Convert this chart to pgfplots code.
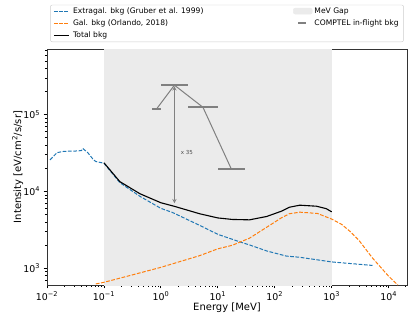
\documentclass[border=0pt]{standalone}
\usepackage{fontspec}
\setmainfont{DejaVu Sans}
\usepackage{pgfplots}
\pgfplotsset{compat=1.18}
\definecolor{c0}{HTML}{1F77B4}
\definecolor{c1}{HTML}{FF7F0E}
\definecolor{gapgray}{RGB}{235,235,235}
\definecolor{comptel}{RGB}{128,128,128}
\tikzset{mpldash/.style={line width=1pt, dash pattern=on 3.7pt off 1.6pt}}
\newcommand{\colone}[1]{\makebox[218pt][l]{#1}}
\begin{document}
\begin{tikzpicture}
\begin{axis}[
  name=ax,
  xmode=log, ymode=log,
  scale only axis, width=360pt, height=236pt,
  xmin=1e-2, xmax=2.1e4, ymin=600, ymax=7.2e5,
  xtick={1e-2,1e-1,1,10,100,1000,10000},
  xticklabels={10\textsuperscript{−2},10\textsuperscript{−1},10\textsuperscript{0},10\textsuperscript{1},10\textsuperscript{2},10\textsuperscript{3},10\textsuperscript{4}},
  minor xtick={2e-2,3e-2,4e-2,5e-2,6e-2,7e-2,8e-2,9e-2,
    0.2,0.3,0.4,0.5,0.6,0.7,0.8,0.9,2,3,4,5,6,7,8,9,
    20,30,40,50,60,70,80,90,200,300,400,500,600,700,800,900,
    2000,3000,4000,5000,6000,7000,8000,9000,20000},
  ytick={1e3,1e4,1e5},
  yticklabels={10\textsuperscript{3},10\textsuperscript{4},10\textsuperscript{5}},
  minor ytick={700,800,900,2e3,3e3,4e3,5e3,6e3,7e3,8e3,9e3,
    2e4,3e4,4e4,5e4,6e4,7e4,8e4,9e4,2e5,3e5,4e5,5e5,6e5,7e5},
  tick pos=left, tick align=outside,
  major tick length=3.5pt, minor tick length=2pt,
  every major tick/.append style={line width=0.8pt, black},
  every minor tick/.append style={line width=0.6pt, black},
  axis line style={line width=0.8pt, black!80},
  tick label style={font=\fontsize{9.4}{11}\selectfont},
  label style={font=\fontsize{11.2}{13}\selectfont},
  xlabel={Energy [MeV]},
  ylabel={Intensity [eV/cm\textsuperscript{2}/s/sr]},
  every axis x label/.style={at={(axis description cs:0.5,-0.109)},
    anchor=base},
  every axis y label/.style={at={(axis description cs:-0.0722,0.5)},
    rotate=90, anchor=base},
  legend columns=2,
  legend cell align=left,
  legend style={font=\fontsize{7.6}{8.6}\selectfont,
    at={(axis description cs:0.5,1)}, anchor=south, yshift=7pt,
    draw=black!20, rounded corners=2pt, inner xsep=3pt, inner ysep=0.5pt,
    row sep=1pt},
]
% MeV gap
\addplot[fill=gapgray, draw=none, forget plot] coordinates {
  (0.1,100) (1000,100) (1000,1e7) (0.1,1e7)} -- cycle;

% extragalactic background (Gruber et al. 1999)
\addplot[c0, mpldash, forget plot] coordinates {
  (0.0113,2.57e4) (0.015,3.2e4) (0.02,3.33e4) (0.03,3.35e4) (0.04,3.4e4)
  (0.043,3.6e4) (0.052,3.2e4) (0.065,2.6e4) (0.072,2.45e4) (0.1,2.33e4)
  (0.19,1.3e4) (0.43,8.6e3) (1,6.0e3) (1.6,5.3e3) (4.8,3.6e3) (10,2.75e3)
  (24,2.2e3) (36,2.0e3) (72,1.67e3) (160,1.43e3) (275,1.38e3) (1000,1.2e3)
  (5200,1.08e3)};

% galactic background (Orlando 2018)
\addplot[c1, mpldash, forget plot] coordinates {
  (0.072,620) (0.1,650) (0.3,805) (1,1.02e3) (4.8,1.45e3) (10,1.78e3)
  (18,1.98e3) (36,2.45e3) (72,3.4e3) (130,4.5e3) (180,5.1e3) (275,5.35e3)
  (560,5.15e3) (1000,4.35e3) (1500,3.7e3) (2100,3.0e3) (3000,2.3e3)
  (5200,1.35e3) (1e4,780) (1.45e4,600)};

% total background
\addplot[black, line width=1.1pt, forget plot] coordinates {
  (0.1,2.36e4) (0.19,1.34e4) (0.43,9.3e3) (1,7.1e3) (1.7,6.4e3) (4.8,5.1e3)
  (10,4.5e3) (18,4.3e3) (36,4.25e3) (72,4.7e3) (130,5.5e3) (180,6.2e3)
  (275,6.6e3) (540,6.4e3) (800,5.95e3) (1000,5.4e3)};

% COMPTEL in-flight background
\addplot[comptel, line width=1pt, forget plot,
  error bars/.cd, x dir=both, x explicit,
  error mark=none, error bar style={line width=2pt, comptel}]
  coordinates {
  (0.84,1.19e5) -= (0.14,0) += (0.16,0)
  (1.73,2.43e5) -= (0.73,0) += (1.27,0)
  (5.48,1.25e5) -= (2.48,0) += (4.52,0)
  (17.3,1.95e4) -= (7.3,0) += (12.7,0)};

% factor 35 arrow
\addplot[comptel, line width=0.9pt, <->, >=stealth, forget plot]
  coordinates {(1.73,2.35e5) (1.73,7.0e3)};
\node[anchor=west, text=black!70, font=\fontsize{5.5}{6}\selectfont]
  at (axis cs:1.95,3.2e4) {x 35};

% legend (matplotlib column order)
\addlegendimage{legend image code/.code={\draw[c0,mpldash] (0pt,0pt)--(15pt,0pt); \path (17pt,0pt);}}
\addlegendentry{\colone{Extragal. bkg (Gruber et al. 1999)}}
\addlegendimage{legend image code/.code={\fill[gapgray] (0pt,-3pt) rectangle (19pt,3pt);}}
\addlegendentry{MeV Gap}
\addlegendimage{legend image code/.code={\draw[c1,mpldash] (0pt,0pt)--(15pt,0pt); \path (17pt,0pt);}}
\addlegendentry{\colone{Gal. bkg (Orlando, 2018)}}
\addlegendimage{legend image code/.code={\draw[comptel,line width=2pt] (5pt,0pt)--(13pt,0pt);}}
\addlegendentry{COMPTEL in-flight bkg}
\addlegendimage{legend image code/.code={\draw[black,line width=1.1pt] (0pt,0pt)--(15pt,0pt); \path (17pt,0pt);}}
\addlegendentry{\colone{Total bkg}}
\end{axis}
\pgfresetboundingbox
\path (ax.south west) ++(-47pt,-37pt) rectangle ++(414pt,322pt);
\end{tikzpicture}
\end{document}
